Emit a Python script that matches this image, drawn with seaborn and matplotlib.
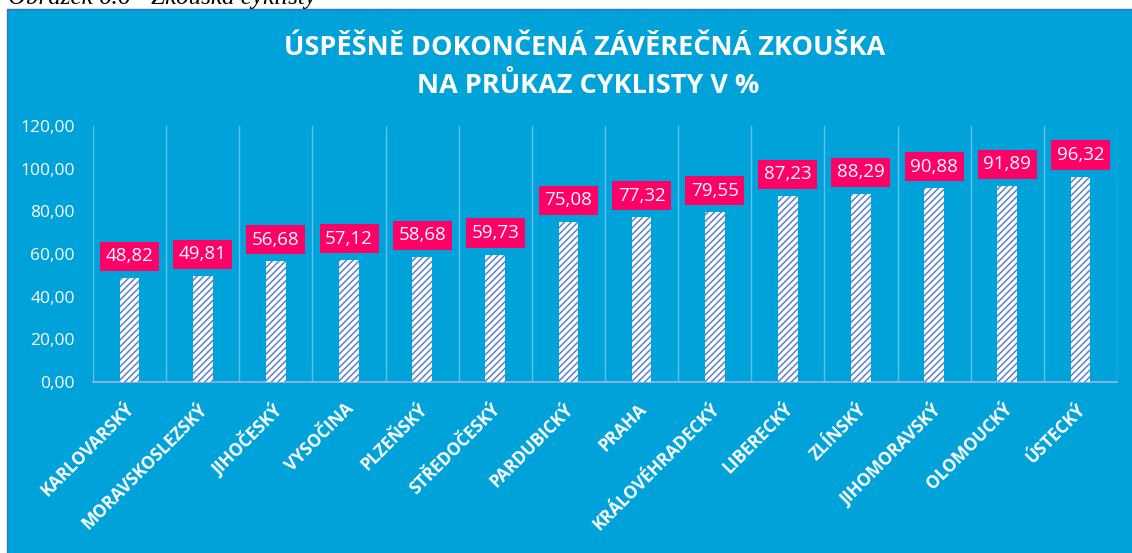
import matplotlib
matplotlib.use("Agg")
import matplotlib.pyplot as plt
import matplotlib.transforms as mtransforms
import seaborn as sns
import numpy as np
from matplotlib.patches import Rectangle

categories = ["KARLOVARSKÝ", "MORAVSKOSLEZSKÝ", "JIHOČESKÝ", "VYSOČINA", "PLZEŇSKÝ",
              "STŘEDOČESKÝ", "PARDUBICKÝ", "PRAHA", "KRÁLOVÉHRADECKÝ", "LIBERECKÝ",
              "ZLÍNSKÝ", "JIHOMORAVSKÝ", "OLOMOUCKÝ", "ÚSTECKÝ"]
values = [48.82, 49.81, 56.68, 57.12, 58.68, 59.73, 75.08, 77.32, 79.55, 87.23,
          88.29, 90.88, 91.89, 96.32]
y_ticks = [0, 20, 40, 60, 80, 100, 120]
title_lines = ["ÚSPĚŠNĚ DOKONČENÁ ZÁVĚREČNÁ ZKOUŠKA", "NA PRŮKAZ CYKLISTY V %"]
caption = "Obrázek 6.6 - Zkouška cyklisty"

BLUE = "#00A2DA"
PINK = "#FF0066"
HATCH = "#5A80D0"
GRID = "#63C2EA"

sns.set_theme(style="white")
plt.rcParams["font.family"] = ["Open Sans", "DejaVu Sans"]
plt.rcParams["hatch.linewidth"] = 1.1
plt.rcParams["hatch.color"] = HATCH

W, H = 1132, 553
fig = plt.figure(figsize=(W / 100, H / 100), dpi=100)
fig.patch.set_facecolor("white")

# blue chart area
fig.patches.append(Rectangle((7 / W, -0.01), 1.0, 1 - 9 / H + 0.01, transform=fig.transFigure,
                             facecolor=BLUE, edgecolor="#3F6FC0", linewidth=1.0, zorder=-5))

# caption (cut off at top, as in the source document)
fig.text(8 / W, 1 - 4 / H, caption, family="Liberation Serif", style="italic",
         fontsize=18, color="black", ha="left", va="baseline")

ax = fig.add_axes([93 / W, 1 - 382 / H, (1117 - 93) / W, (382 - 126) / H])
ax.set_facecolor("none")
ax.set_zorder(2)

sns.barplot(x=categories, y=values, ax=ax, color="white", width=0.27,
            edgecolor=HATCH, linewidth=0, saturation=1)
for p in ax.patches:
    p.set_hatch("/////")
    p.set_edgecolor(HATCH)
    p.set_linewidth(0)
    p.set_zorder(3)

ax.set_ylim(0, 120)
ax.set_xlim(-0.5, len(categories) - 0.5)
ax.set_yticks(y_ticks)
ax.set_yticklabels([f"{t:.2f}".replace(".", ",") for t in y_ticks], color="white", fontsize=12.5)
ax.tick_params(axis="y", length=0, pad=13)
ax.set_xticks(range(len(categories)))
ax.set_xticklabels(categories, rotation=45, ha="right", rotation_mode="anchor",
                   color="white", fontsize=12.5, fontweight="bold")
ax.tick_params(axis="x", length=0, pad=13)
shift = mtransforms.ScaledTranslation(-4 / 100, 0, fig.dpi_scale_trans)
for lbl in ax.get_xticklabels():
    lbl.set_transform(lbl.get_transform() + shift)
ax.set_xticks(np.arange(-0.5, len(categories), 1), minor=True)
ax.tick_params(axis="x", which="minor", length=0)
ax.grid(False)
ax.grid(True, which="minor", axis="x", color=GRID, linewidth=1.0)
ax.set_axisbelow(True)
for s in ["top", "right", "left"]:
    ax.spines[s].set_visible(False)
ax.spines["bottom"].set_color("#9DB4E6")
ax.spines["bottom"].set_linewidth(1.2)
ax.set_xlabel("")
ax.set_ylabel("")

for i, v in enumerate(values):
    ax.annotate(f"{v:.2f}".replace(".", ","), xy=(i, v), xytext=(0, 9),
                textcoords="offset points", ha="center", va="bottom",
                color="white", fontsize=13.5,
                bbox=dict(boxstyle="square,pad=0.3", fc=PINK, ec="none"), zorder=5)

fig.text(585 / W, 1 - 55 / H, title_lines[0], ha="center", va="baseline",
         color="white", fontsize=19.5, fontweight="bold")
fig.text(588 / W, 1 - 93 / H, title_lines[1], ha="center", va="baseline",
         color="white", fontsize=19.5, fontweight="bold")

fig.savefig("out.png", dpi=100, facecolor=fig.get_facecolor())
